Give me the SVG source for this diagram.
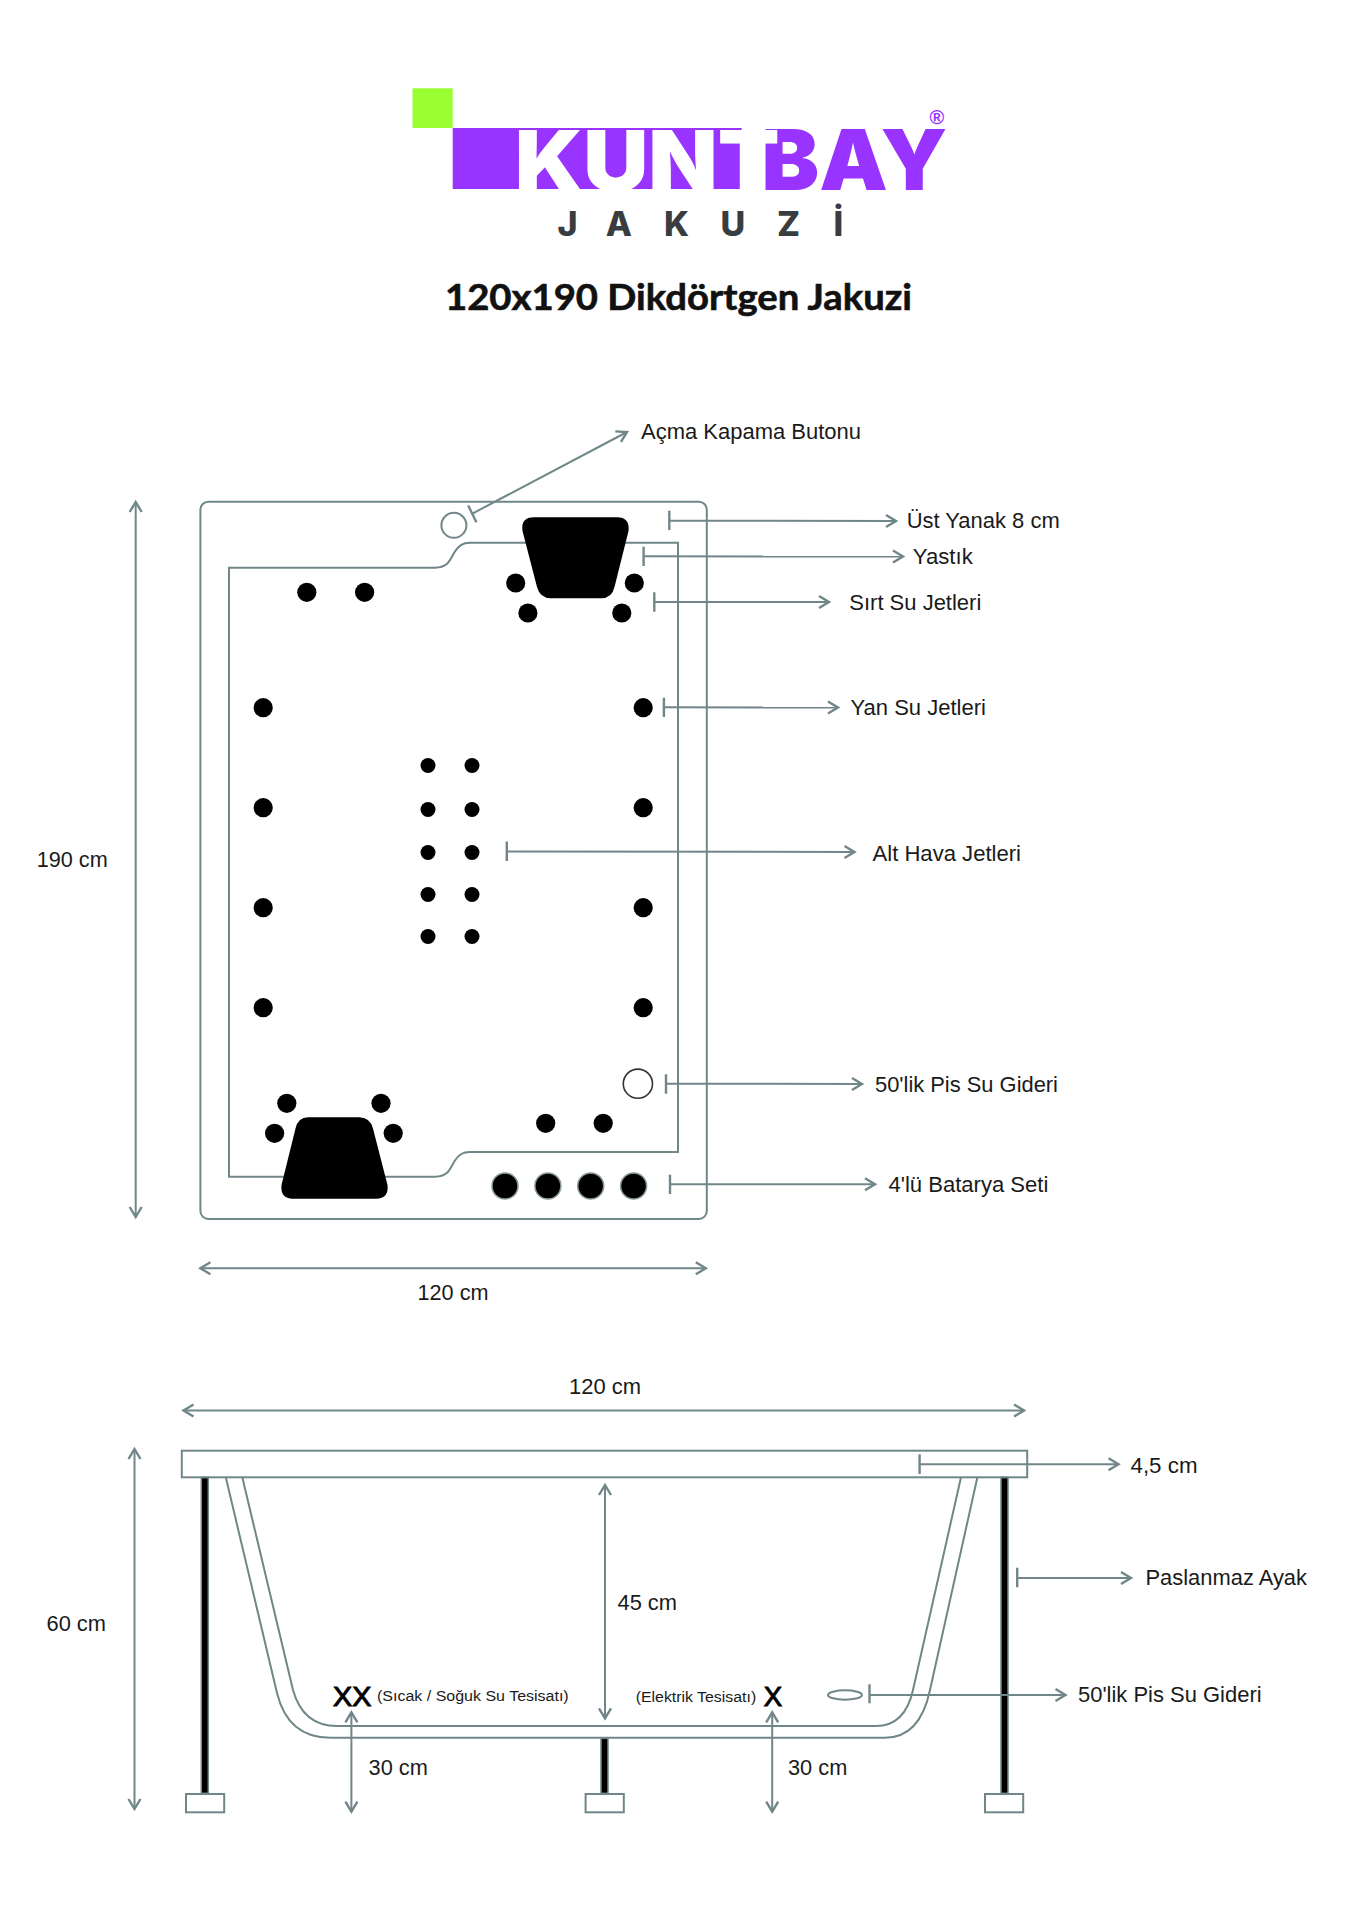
<svg xmlns="http://www.w3.org/2000/svg" width="1358" height="1920" viewBox="0 0 1358 1920">
<style>
.l{fill:none;stroke:#718688;stroke-width:2}
.t{fill:none;stroke:#718688;stroke-width:2.4}
.a{fill:none;stroke:#718688;stroke-width:2;marker-end:url(#h)}
.d{fill:none;stroke:#718688;stroke-width:2;marker-start:url(#h);marker-end:url(#h)}
.s{font-family:"Liberation Sans",Arial,sans-serif;font-size:22px;fill:#1a1a1a}
.m{font-size:15.5px}
.x{font-size:28px;fill:#000;stroke:#000;stroke-width:1}
.k{fill:#000}
.leg{fill:#000;stroke:#718688;stroke-width:1.5}
.foot{fill:#fff;stroke:#718688;stroke-width:2}
.lg{font-family:Inter,"Liberation Sans",sans-serif;font-weight:900;font-size:84px}
</style>
<defs>
<marker id="h" markerUnits="userSpaceOnUse" markerWidth="14" markerHeight="14" orient="auto-start-reverse" refX="0" refY="0" viewBox="-12 -7 14 14" overflow="visible"><path d="M-10,-6 L0,0 L-10,6" fill="none" stroke="#718688" stroke-width="2.4"/></marker>
</defs>
<rect width="1358" height="1920" fill="#fff"/>
<g id="logo">
<rect x="412.5" y="88.3" width="40.2" height="39.7" fill="#99ff33"/>
<rect x="452.7" y="128" width="289" height="61" fill="#9933ff"/>
<text class="lg" x="761.5" y="189.8" textLength="186" lengthAdjust="spacingAndGlyphs" fill="#9933ff">BAY</text>
<text class="lg" x="514.7" y="190.5" textLength="265" lengthAdjust="spacingAndGlyphs" fill="#fff">KUNT</text>
<text x="929.5" y="124" font-family="Liberation Sans,sans-serif" font-weight="700" font-size="20" fill="#9933ff">®</text>
<text x="557.5 605.8 664 720.6 776.9 833.5" y="235.5" font-family="Inter,Liberation Sans,sans-serif" font-weight="800" font-size="34" fill="#3a3d40">JAKUZİ</text>
</g>
<g id="title"><text x="445" y="310" textLength="467" lengthAdjust="spacingAndGlyphs" font-family="Lato,sans-serif" font-weight="700" font-size="36" fill="#111" stroke="#111" stroke-width=".6">120x190 Dikdörtgen Jakuzi</text></g>

<g id="top-view">
<rect id="tub-rim" class="l" x="200.4" y="501.7" width="506.4" height="717.3" rx="8"/>
<path id="tub-inner" class="l" d="M229,567.7H435C447,567.7 449,562 454,553C459,545 463,542.7 470,542.7H678V1152H470C463,1152 459,1154 454,1162C449,1171 447,1176.7 435,1176.7H229Z"/>
<circle id="button" class="l" cx="453.9" cy="525.3" r="12.5"/>
<path id="pillow-top" class="k" d="M534,517.3H617Q630,517.3 628.5,531L614.5,587Q612,598.3 601,598.3H551Q540,598.3 537,587L522.5,531Q520.5,517.3 534,517.3Z"/>
<path id="pillow-bottom" class="k" d="M308,1117.3H359Q370,1117.3 373,1128.6L387.5,1185Q389,1198.7 376,1198.7H293Q280,1198.7 281.5,1185L295.5,1128.6Q298,1117.3 308,1117.3Z"/>
<g id="back-jets" class="k">
<circle cx="515.7" cy="583" r="9.6"/><circle cx="634.3" cy="583" r="9.6"/><circle cx="527.9" cy="613" r="9.6"/><circle cx="621.8" cy="613" r="9.6"/>
<circle cx="306.8" cy="592.3" r="9.6"/><circle cx="364.6" cy="592.3" r="9.6"/>
<circle cx="286.8" cy="1103.3" r="9.6"/><circle cx="381" cy="1103.3" r="9.6"/><circle cx="274.6" cy="1133.3" r="9.6"/><circle cx="393.2" cy="1133.3" r="9.6"/>
<circle cx="545.7" cy="1123.3" r="9.6"/><circle cx="603.2" cy="1123.3" r="9.6"/>
</g>
<g id="side-jets" class="k">
<circle cx="263.2" cy="707.7" r="9.6"/><circle cx="263.2" cy="807.7" r="9.6"/><circle cx="263.2" cy="907.7" r="9.6"/><circle cx="263.2" cy="1007.7" r="9.6"/>
<circle cx="643.2" cy="707.7" r="9.6"/><circle cx="643.2" cy="807.7" r="9.6"/><circle cx="643.2" cy="907.7" r="9.6"/><circle cx="643.2" cy="1007.7" r="9.6"/>
</g>
<g id="air-jets" class="k">
<circle cx="428" cy="765.5" r="7.5"/><circle cx="472" cy="765.5" r="7.5"/><circle cx="428" cy="809.5" r="7.5"/><circle cx="472" cy="809.5" r="7.5"/><circle cx="428" cy="852.5" r="7.5"/><circle cx="472" cy="852.5" r="7.5"/><circle cx="428" cy="894.5" r="7.5"/><circle cx="472" cy="894.5" r="7.5"/><circle cx="428" cy="936.5" r="7.5"/><circle cx="472" cy="936.5" r="7.5"/>
</g>
<circle id="drain-top" cx="637.9" cy="1083.7" r="14.6" fill="#fff" stroke="#333" stroke-width="1.6"/>
<g id="battery" fill="#000" stroke="#8a9a9a" stroke-width="1.5">
<circle cx="505" cy="1186" r="13"/><circle cx="547.9" cy="1186" r="13"/><circle cx="590.7" cy="1186" r="13"/><circle cx="633.6" cy="1186" r="13"/>
</g>
</g>

<g id="side-view">
<g id="legs">
<rect class="leg" x="201.3" y="1477.3" width="7" height="316"/>
<rect class="leg" x="601" y="1738.3" width="7" height="55"/>
<rect class="leg" x="1001" y="1477.3" width="7" height="316"/>
<rect class="foot" x="186" y="1794" width="38.2" height="18.3"/>
<rect class="foot" x="585.6" y="1794" width="38.2" height="18.3"/>
<rect class="foot" x="985" y="1794" width="38.2" height="18.3"/>
</g>
<path id="shell-outer" class="l" d="M225.8,1477.3L277,1693Q288,1737.7 330,1737.7H885Q920,1737.7 930,1690L977.4,1477.3"/>
<path id="shell-inner" class="l" d="M242.3,1477.3L293,1690Q303,1726 337,1726H876Q905,1726 913,1690L961,1477.3"/>
<rect id="rail" class="l" x="181.8" y="1450.7" width="845.4" height="26.6"/>
<ellipse id="drain-side" class="l" cx="845" cy="1695" rx="17" ry="4.7"/>
</g>

<g id="connectors">
<path class="t" d="M468.2,505.5L476.4,522.2"/><path class="a" d="M472,513.8L627,432"/>
<path class="t" d="M669.3,510.7V530"/><path class="a" d="M669.3,520.7L896,521"/>
<path class="t" d="M643.6,546.7V566"/><path class="a" d="M643.6,556.3L903,556.5"/>
<path class="t" d="M654.3,592.3V611.7"/><path class="a" d="M654.3,602L829,602"/>
<path class="t" d="M663.9,697.7V717"/><path class="a" d="M663.9,707.3L838,707.5"/>
<path class="t" d="M506.8,841.5V861"/><path class="a" d="M506.8,851.5L854.5,852"/>
<path class="t" d="M666,1074.3V1093.7"/><path class="a" d="M666,1083.7L862,1084"/>
<path class="t" d="M670,1174.7V1194"/><path class="a" d="M670,1184.3L875,1184.3"/>
<path class="d" d="M200.4,1268.3H705.8"/>
<path class="d" d="M135.7,502V1217"/>
<path class="d" d="M183.5,1410.5H1024"/>
<path class="d" d="M134.5,1449V1809"/>
<path class="d" d="M605,1485V1718.3"/>
<path class="d" d="M351.4,1712.3V1811.7"/>
<path class="d" d="M772.2,1712.3V1811.7"/>
<path class="t" d="M919.6,1454.3V1474"/><path class="a" d="M919.6,1464.3H1118.5"/>
<path class="t" d="M1017.2,1567.7V1587.3"/><path class="a" d="M1017.2,1578H1131"/>
<path class="t" d="M869.5,1684.3V1703.3"/><path class="a" d="M869.5,1695H1065.5"/>
</g>

<g id="labels" class="s">
<text x="641" y="438.5" textLength="220" lengthAdjust="spacingAndGlyphs">Açma Kapama Butonu</text>
<text x="906.7" y="528" textLength="153" lengthAdjust="spacingAndGlyphs">Üst Yanak 8 cm</text>
<text x="912.8" y="563.5" textLength="60" lengthAdjust="spacingAndGlyphs">Yastık</text>
<text x="849.3" y="609.5" textLength="132" lengthAdjust="spacingAndGlyphs">Sırt Su Jetleri</text>
<text x="850.5" y="715" textLength="135.5" lengthAdjust="spacingAndGlyphs">Yan Su Jetleri</text>
<text x="872.5" y="861" textLength="148.5" lengthAdjust="spacingAndGlyphs">Alt Hava Jetleri</text>
<text x="875" y="1091.5" textLength="183" lengthAdjust="spacingAndGlyphs">50'lik Pis Su Gideri</text>
<text x="888.4" y="1191.5" textLength="160" lengthAdjust="spacingAndGlyphs">4'lü Batarya Seti</text>
<text x="36.7" y="867" textLength="71" lengthAdjust="spacingAndGlyphs">190 cm</text>
<text x="417.5" y="1299.5" textLength="71" lengthAdjust="spacingAndGlyphs">120 cm</text>
<text x="569" y="1393.5" textLength="72" lengthAdjust="spacingAndGlyphs">120 cm</text>
<text x="46.5" y="1631" textLength="59.5" lengthAdjust="spacingAndGlyphs">60 cm</text>
<text x="617.5" y="1609.5" textLength="59.5" lengthAdjust="spacingAndGlyphs">45 cm</text>
<text x="368.6" y="1774.5" textLength="59.3" lengthAdjust="spacingAndGlyphs">30 cm</text>
<text x="788" y="1774.5" textLength="59.3" lengthAdjust="spacingAndGlyphs">30 cm</text>
<text x="1130.5" y="1472.5" textLength="67" lengthAdjust="spacingAndGlyphs">4,5 cm</text>
<text x="1145.5" y="1584.5" textLength="161.5" lengthAdjust="spacingAndGlyphs">Paslanmaz Ayak</text>
<text x="1078" y="1702" textLength="183.6" lengthAdjust="spacingAndGlyphs">50'lik Pis Su Gideri</text>
<text x="333" y="1706" class="x" textLength="38.3" lengthAdjust="spacingAndGlyphs">XX</text>
<text x="763.8" y="1706" class="x" textLength="18.4" lengthAdjust="spacingAndGlyphs">X</text>
<text x="377" y="1700.5" class="m" textLength="191.7" lengthAdjust="spacingAndGlyphs">(Sıcak / Soğuk Su Tesisatı)</text>
<text x="635.7" y="1701.5" class="m" textLength="120.5" lengthAdjust="spacingAndGlyphs">(Elektrik Tesisatı)</text>
</g>
</svg>
